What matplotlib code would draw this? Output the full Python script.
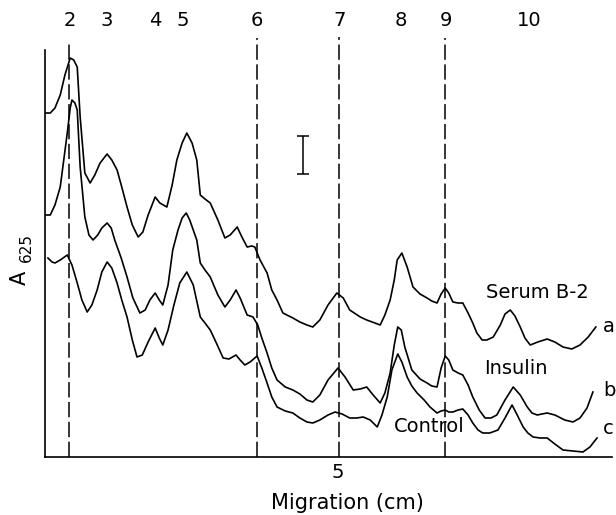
import matplotlib
matplotlib.use("Agg")
import matplotlib.pyplot as plt

plt.rcParams['font.family'] = ['DejaVu Sans']

# ---- data (migration in cm, absorbance A625 in arbitrary units) ----
serum_x = [0.00,0.09,0.17,0.26,0.34,0.43,0.49,0.55,0.60,0.68,
           0.77,0.85,0.94,1.06,1.14,1.23,1.31,1.40,1.49,1.59,
           1.67,1.76,1.88,1.96,2.08,2.17,2.25,2.34,2.42,2.51,
           2.59,2.65,2.73,2.82,2.95,3.07,3.16,3.28,3.36,3.45,
           3.53,3.58,3.67,3.79,3.87,3.96,4.06,4.23,4.35,4.47,
           4.57,4.69,4.83,4.98,5.09,5.20,5.38,5.49,5.63,5.72,
           5.80,5.89,5.96,6.01,6.09,6.18,6.28,6.40,6.52,6.60,
           6.69,6.76,6.83,6.89,6.96,7.05,7.13,7.22,7.30,7.37,
           7.46,7.54,7.65,7.77,7.85,7.94,8.02,8.11,8.19,8.28,
           8.41,8.57,8.70,8.84,8.99,9.13,9.27,9.40]
serum_y = [3.44,3.44,3.49,3.62,3.82,3.99,3.97,3.90,3.40,2.84,
           2.74,2.82,2.94,3.03,2.97,2.87,2.70,2.50,2.32,2.20,
           2.25,2.42,2.60,2.54,2.50,2.72,2.97,3.14,3.24,3.14,
           2.97,2.62,2.58,2.54,2.37,2.19,2.22,2.30,2.20,2.10,
           2.11,2.10,1.97,1.84,1.67,1.57,1.44,1.39,1.35,1.32,
           1.30,1.37,1.52,1.64,1.59,1.47,1.40,1.37,1.34,1.32,
           1.42,1.57,1.77,1.97,2.04,1.90,1.70,1.63,1.59,1.56,
           1.54,1.63,1.69,1.64,1.55,1.54,1.54,1.44,1.34,1.24,
           1.17,1.17,1.20,1.32,1.43,1.47,1.41,1.30,1.19,1.12,
           1.15,1.18,1.15,1.10,1.08,1.12,1.20,1.30]

insulin_x = [0.00,0.09,0.17,0.26,0.32,0.38,0.43,0.46,0.51,0.55,
             0.60,0.68,0.75,0.82,0.90,0.97,1.06,1.13,1.19,1.30,
             1.40,1.50,1.62,1.71,1.79,1.88,1.95,2.01,2.10,2.18,
             2.27,2.34,2.41,2.47,2.59,2.65,2.73,2.82,2.95,3.07,
             3.16,3.26,3.33,3.45,3.55,3.63,3.70,3.79,3.87,3.96,
             4.10,4.23,4.35,4.47,4.57,4.69,4.83,5.00,5.12,5.26,
             5.38,5.49,5.60,5.72,5.80,5.89,5.96,6.02,6.08,6.14,
             6.26,6.40,6.52,6.60,6.69,6.76,6.83,6.89,6.96,7.05,
             7.13,7.22,7.30,7.41,7.51,7.61,7.71,7.85,7.99,8.11,
             8.23,8.31,8.40,8.48,8.57,8.70,8.87,9.01,9.13,9.25,
             9.35]
insulin_y = [2.42,2.42,2.52,2.70,2.97,3.24,3.49,3.57,3.54,3.47,
             2.90,2.40,2.22,2.17,2.22,2.29,2.34,2.29,2.17,1.99,
             1.80,1.59,1.44,1.47,1.57,1.64,1.57,1.52,1.72,2.07,
             2.27,2.39,2.44,2.37,2.17,1.94,1.87,1.80,1.62,1.50,
             1.57,1.67,1.59,1.42,1.40,1.32,1.19,1.04,0.89,0.77,
             0.70,0.67,0.63,0.57,0.55,0.62,0.77,0.89,0.80,0.67,
             0.68,0.70,0.62,0.54,0.64,0.84,1.12,1.30,1.27,1.10,
             0.87,0.78,0.74,0.71,0.70,0.89,1.01,0.97,0.87,0.84,
             0.82,0.72,0.60,0.47,0.39,0.39,0.42,0.57,0.70,0.62,
             0.50,0.44,0.42,0.43,0.44,0.42,0.37,0.35,0.39,0.49,
             0.65]

control_x = [0.05,0.12,0.17,0.26,0.38,0.46,0.55,0.63,0.72,0.80,
             0.89,0.97,1.06,1.14,1.23,1.31,1.40,1.49,1.57,1.66,
             1.76,1.88,1.95,2.01,2.10,2.20,2.30,2.42,2.53,2.65,
             2.73,2.82,2.94,3.04,3.14,3.26,3.33,3.41,3.50,3.62,
             3.70,3.79,3.87,3.96,4.10,4.23,4.35,4.47,4.57,4.69,
             4.83,4.95,5.07,5.20,5.32,5.43,5.55,5.67,5.75,5.84,
             5.92,6.02,6.09,6.18,6.26,6.35,6.47,6.57,6.69,6.76,
             6.83,6.89,6.96,7.05,7.13,7.22,7.30,7.39,7.47,7.59,
             7.73,7.85,7.97,8.05,8.16,8.24,8.33,8.45,8.57,8.70,
             8.84,9.01,9.18,9.30,9.42]
control_y = [1.99,1.95,1.94,1.97,2.02,1.92,1.74,1.57,1.45,1.52,
             1.67,1.85,1.95,1.89,1.74,1.57,1.40,1.17,1.00,1.02,
             1.15,1.29,1.19,1.12,1.27,1.52,1.74,1.85,1.72,1.40,
             1.34,1.27,1.12,0.99,0.98,1.02,0.97,0.92,0.95,1.01,
             0.89,0.74,0.60,0.50,0.46,0.44,0.39,0.35,0.34,0.37,
             0.42,0.45,0.43,0.39,0.39,0.40,0.37,0.30,0.42,0.60,
             0.87,1.03,0.95,0.80,0.71,0.64,0.57,0.50,0.44,0.46,
             0.47,0.45,0.45,0.47,0.48,0.42,0.34,0.27,0.24,0.24,
             0.27,0.39,0.52,0.43,0.30,0.24,0.20,0.19,0.19,0.13,
             0.07,0.06,0.05,0.10,0.19]

peak_labels = ['2', '3', '4', '5', '6', '7', '8', '9', '10']
peak_label_x = [0.43, 1.06, 1.88, 2.35, 3.62, 5.02, 6.08, 6.84, 8.26]
dashed_x = [0.41, 3.62, 5.01, 6.83]
dashed_top = [4.14, 4.19, 4.20, 4.19]

curve_names = ['Serum B-2', 'Insulin', 'Control']
curve_letters = ['a', 'b', 'c']

scale_bar_x = 4.40
scale_bar_y = 3.02
scale_bar_half = 0.19

# ---- figure ----
fig = plt.figure(figsize=(6.16, 5.15), dpi=100)
ax = fig.add_axes([45/616, 58/515, 567/616, 407/515])
ax.set_xlim(0, 9.676)
ax.set_ylim(0, 4.07)

for xs, ys in [(serum_x, serum_y), (insulin_x, insulin_y), (control_x, control_y)]:
    ax.plot(xs, ys, color='black', lw=1.2, solid_joinstyle='round')

for xd, top in zip(dashed_x, dashed_top):
    ax.plot([xd, xd], [0, top], color='black', lw=1.1,
            linestyle=(0, (10, 3)), clip_on=False)

for lab, xl in zip(peak_labels, peak_label_x):
    ax.text(xl, 4.37, lab, ha='center', va='center', fontsize=14, clip_on=False)

ax.errorbar([scale_bar_x], [scale_bar_y], yerr=[scale_bar_half], fmt='none',
            ecolor='black', elinewidth=1.1, capsize=4.3, capthick=1.1)

ax.text(8.41, 1.65, curve_names[0], ha='center', va='center', fontsize=14)
ax.text(8.04, 0.89, curve_names[1], ha='center', va='center', fontsize=14)
ax.text(6.55, 0.30, curve_names[2], ha='center', va='center', fontsize=14)
ax.text(9.52, 1.30, curve_letters[0], ha='left', va='center', fontsize=14, clip_on=False)
ax.text(9.52, 0.67, curve_letters[1], ha='left', va='center', fontsize=14, clip_on=False)
ax.text(9.52, 0.29, curve_letters[2], ha='left', va='center', fontsize=14, clip_on=False)

for s in ['top', 'right']:
    ax.spines[s].set_visible(False)
ax.spines['left'].set_linewidth(1.2)
ax.spines['bottom'].set_linewidth(1.2)
ax.set_xticks([5])
ax.set_xticklabels(['5'], fontsize=14)
ax.tick_params(axis='x', length=0, pad=4)
ax.set_yticks([])

fig.text(347/616, 1 - 503/515, 'Migration (cm)', ha='center', va='center', fontsize=15)
fig.text(20/616, 1 - 278/515, 'A', rotation=90, ha='center', va='center', fontsize=15)
fig.text(26/616, 1 - 247/515, '625', rotation=90, ha='center', va='center', fontsize=11)

fig.savefig('out.png', dpi=100)
